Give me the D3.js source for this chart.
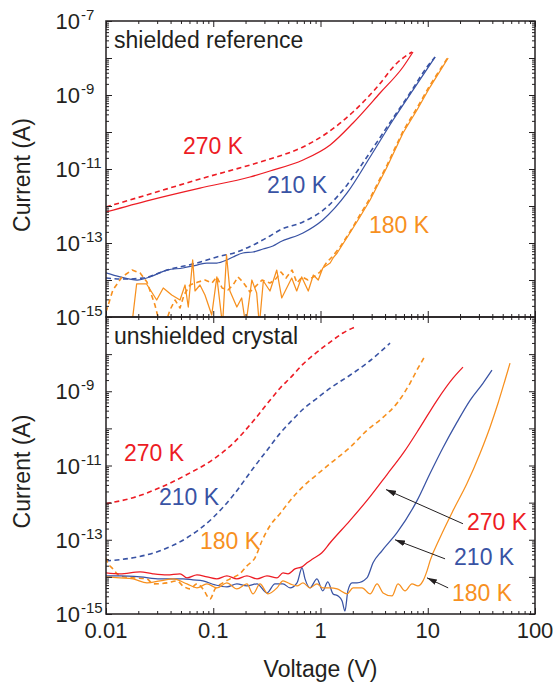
<!DOCTYPE html>
<html>
<head>
<meta charset="utf-8">
<script src="https://cdn.jsdelivr.net/npm/d3@7"></script>
<style>
  body { margin: 0; background: #fff; }
  svg { display: block; font-family: "Liberation Sans", Arial, Helvetica, sans-serif; }
</style>
</head>
<body>
<svg id="chart" width="556" height="684"></svg>
<script>
// axis ticks / labels
const voltageTicks = [0.01, 0.1, 1, 10, 100];
const voltageTickLabels = ["0.01", "0.1", "1", "10", "100"];
const topCurrentExponents = [-7, -9, -11, -13, -15];
const bottomCurrentExponents = [-9, -11, -13, -15];

// shielded reference, [voltage V, current A]
const shieldedRed270Solid = [[0.01,6.9e-13],[0.0257,1.45e-12],[0.0752,3.06e-12],[0.220,6.08e-12],[0.338,8.83e-12],[0.687,1.75e-11],[1.23,4.46e-11],[2.01,1.75e-10],[3.59,1.13e-9],[5.88,5.71e-9],[7.28,1.45e-8]];
const shieldedRed270Dash = [[0.01,9.4e-13],[0.0257,2.11e-12],[0.0752,5.37e-12],[0.220,1.28e-11],[0.338,1.86e-11],[0.687,3.94e-11],[1.15,9.4e-11],[2.01,3.48e-10],[3.37,1.64e-9],[5.17,7.33e-9],[7.13,1.45e-8]];
const shieldedBlue210Solid = [[0.01,1.55e-14],[0.0135,1.21e-14],[0.0195,1.0e-14],[0.0257,1.21e-14],[0.0371,1.86e-14],[0.0522,2.11e-14],[0.0705,2.54e-14],[0.0874,2.88e-14],[0.108,2.88e-14],[0.134,3.48e-14],[0.153,4.19e-14],[0.189,5.37e-14],[0.235,5.71e-14],[0.291,6.89e-14],[0.360,8.3e-14],[0.419,1.06e-13],[0.687,1.86e-13],[1.05,4.19e-13],[1.77,2.25e-12],[2.90,2.11e-11],[4.75,2.11e-10],[7.28,1.36e-9],[11.7,1.06e-8]];
const shieldedBlue210Dash = [[0.01,1.13e-14],[0.0150,1.06e-14],[0.0221,1.13e-14],[0.0371,1.86e-14],[0.0705,2.88e-14],[0.108,4.19e-14],[0.166,5.71e-14],[0.235,8.83e-14],[0.338,1.55e-13],[0.419,2.25e-13],[0.687,3.70e-13],[1.15,9.4e-13],[1.77,3.70e-12],[2.71,2.11e-11],[4.17,1.36e-10],[6.83,1.13e-9],[9.84,5.71e-9],[11.7,1.06e-8]];
const shieldedOrange180Solid = [[0.01,4e-16],[0.0150,5e-16],[0.0174,6e-16],[0.0193,7.8e-15],[0.0239,7.8e-15],[0.0297,2.88e-15],[0.0342,6.08e-15],[0.0410,3.94e-15],[0.0490,2.88e-15],[0.0546,7.33e-15],[0.0585,1.86e-15],[0.0643,3.48e-14],[0.0676,5.05e-15],[0.0752,7.33e-15],[0.0837,3.94e-15],[0.0968,1.13e-15],[0.108,1.21e-14],[0.122,6e-16],[0.133,4.74e-14],[0.143,5.05e-15],[0.166,1.86e-15],[0.184,3.27e-15],[0.201,6e-16],[0.229,1.0e-14],[0.254,4.46e-15],[0.269,6e-16],[0.293,9.4e-15],[0.338,5.05e-15],[0.391,1.86e-14],[0.435,3.27e-15],[0.484,6.08e-15],[0.539,1.13e-14],[0.600,5.05e-15],[0.668,1.21e-14],[0.769,5.05e-15],[0.857,1.36e-14],[0.953,1.0e-14],[1.05,2.11e-14],[1.23,2.88e-14],[1.31,3.94e-14],[1.43,5.37e-14],[1.88,1.86e-13],[2.33,5.05e-13],[2.90,1.45e-12],[4.17,1.13e-11],[5.88,9.4e-11],[7.94,3.94e-10],[10.5,1.64e-9],[15.5,1.0e-8]];
const shieldedOrange180Dash = [[0.01,1.36e-15],[0.0116,5.37e-15],[0.0141,1.21e-14],[0.0175,1.86e-14],[0.0208,1.55e-14],[0.0241,8.83e-15],[0.0286,2.11e-15],[0.0305,1e-15],[0.0355,6.08e-16],[0.0395,1.55e-15],[0.0440,2.88e-15],[0.0490,1.75e-15],[0.0534,3.94e-15],[0.0607,7.33e-15],[0.0721,8.83e-15],[0.0837,1e-14],[0.0973,8.3e-15],[0.108,1.21e-14],[0.121,6.08e-15],[0.137,5.37e-15],[0.153,7.33e-15],[0.170,1.21e-14],[0.189,8.83e-15],[0.220,4.74e-15],[0.256,7.33e-15],[0.285,1e-14],[0.338,8.3e-15],[0.376,1e-14],[0.428,1.64e-14],[0.477,1.13e-14],[0.543,1.86e-14],[0.604,8.3e-15],[0.673,1.21e-14],[0.764,1e-14],[0.889,1.28e-14],[0.989,1.64e-14],[1.15,3.06e-14],[1.28,4.19e-14],[1.52,7.8e-14],[1.88,1.98e-13],[2.33,5.71e-13],[2.90,1.64e-12],[4.17,1.28e-11],[5.88,1.06e-10],[7.94,4.46e-10],[10.5,1.86e-9],[15.5,1.06e-8]];

// unshielded crystal, [voltage V, current A]
const unshieldedRed270Dash = [[0.01,9.4e-13],[0.0179,1.36e-12],[0.0319,2.54e-12],[0.0569,5.71e-12],[0.0995,1.45e-11],[0.153,3.94e-11],[0.235,1.55e-10],[0.338,5.71e-10],[0.419,1.21e-9],[0.520,2.25e-9],[0.687,5.37e-9],[0.927,1.13e-8],[1.23,2.11e-8],[1.62,3.70e-8],[2.10,5.37e-8]];
const unshieldedBlue210Dash = [[0.01,2.70e-14],[0.0179,3.27e-14],[0.0319,5.05e-14],[0.0569,1.13e-13],[0.0995,3.94e-13],[0.153,1.55e-12],[0.235,8.3e-12],[0.338,3.27e-11],[0.419,7.33e-11],[0.520,1.45e-10],[0.687,3.27e-10],[0.927,6.47e-10],[1.23,1.21e-9],[1.88,2.70e-9],[2.71,5.71e-9],[3.59,1.13e-8],[4.45,1.98e-8]];
const unshieldedOrange180Dash = [[0.01,3.27e-14],[0.0102,2.70e-14],[0.0116,1.64e-14],[0.0135,1.06e-14],[0.0179,9.4e-15],[0.0241,8.83e-15],[0.0274,6.47e-15],[0.0371,6.89e-15],[0.0459,7.8e-15],[0.0522,5.71e-15],[0.0607,4.74e-15],[0.0705,6.47e-15],[0.0802,4.74e-15],[0.0933,2.54e-15],[0.104,4.74e-15],[0.123,6.89e-15],[0.150,9.4e-15],[0.177,1.21e-14],[0.206,1.98e-14],[0.245,3.27e-14],[0.285,9.4e-14],[0.338,2.39e-13],[0.419,5.05e-13],[0.520,1.13e-12],[0.687,2.70e-12],[0.927,5.71e-12],[1.23,1.13e-11],[1.88,3.06e-11],[2.71,8.83e-11],[3.83,1.98e-10],[5.17,4.74e-10],[6.83,1.64e-9],[8.11,4.19e-9],[9.42,8.83e-9]];
const unshieldedRed270Solid = [[0.01,1.28e-14],[0.0135,1.21e-14],[0.0208,1.36e-14],[0.0274,1.21e-14],[0.0371,1.13e-14],[0.0490,1.21e-14],[0.0569,9.4e-15],[0.0705,1.13e-14],[0.0874,1.0e-14],[0.108,8.83e-15],[0.134,1.06e-14],[0.166,8.83e-15],[0.206,1.06e-14],[0.256,8.83e-15],[0.317,1.06e-14],[0.393,9.4e-15],[0.447,1.28e-14],[0.498,1.21e-14],[0.578,1.64e-14],[0.673,1.86e-14],[0.749,2.39e-14],[0.851,3.06e-14],[1.03,4.46e-14],[1.23,8.3e-14],[1.88,3.27e-13],[2.90,1.45e-12],[4.17,5.71e-12],[5.88,2.11e-11],[8.47,1.06e-10],[12.2,5.71e-10],[17.2,2.25e-9],[21.3,4.46e-9]];
const unshieldedBlue210Solid = [[0.01,1.06e-14],[0.0135,1.06e-14],[0.0208,1.0e-14],[0.0319,8.83e-15],[0.0422,8.83e-15],[0.0522,8.83e-15],[0.0647,8.3e-15],[0.0802,7.8e-15],[0.104,6.08e-15],[0.134,5.37e-15],[0.166,6.47e-15],[0.206,5.71e-15],[0.256,6.47e-15],[0.317,3.70e-15],[0.376,6.47e-15],[0.447,6.47e-15],[0.520,5.05e-15],[0.604,6.89e-15],[0.673,1.75e-14],[0.717,8.83e-15],[0.798,5.05e-15],[0.927,8.83e-15],[1.05,4.19e-15],[1.17,7.33e-15],[1.31,3.48e-15],[1.46,3.06e-15],[1.59,2.25e-15],[1.69,1.20e-15],[1.80,4.19e-15],[1.97,6.89e-15],[2.19,6.89e-15],[2.71,9.4e-15],[3.09,2.39e-14],[3.74,5.05e-14],[5.17,1.55e-13],[7.94,1.13e-12],[10.5,6.08e-12],[13.9,3.06e-11],[18.7,1.45e-10],[24.8,5.71e-10],[32.7,1.64e-9],[39.7,3.70e-9]];
const unshieldedOrange180Solid = [[0.01,1.0e-14],[0.0135,9.4e-15],[0.0179,8.83e-15],[0.0241,6.89e-15],[0.0319,7.8e-15],[0.0422,8.83e-15],[0.0569,6.47e-15],[0.0705,5.05e-15],[0.0874,6.47e-15],[0.108,5.05e-15],[0.134,6.89e-15],[0.166,4.74e-15],[0.206,6.47e-15],[0.235,3.48e-15],[0.273,6.47e-15],[0.324,3.48e-15],[0.393,5.05e-15],[0.447,7.8e-15],[0.520,6.47e-15],[0.604,5.71e-15],[0.687,6.89e-15],[0.798,5.05e-15],[0.927,6.47e-15],[1.05,5.05e-15],[1.23,5.05e-15],[1.43,4.74e-15],[1.77,3.48e-15],[2.01,5.05e-15],[2.44,5.05e-15],[2.90,3.48e-15],[3.37,6.47e-15],[3.83,3.70e-15],[4.64,3.06e-15],[5.28,6.47e-15],[6.14,4.19e-15],[7.13,6.47e-15],[8.11,5.71e-15],[9.03,7.8e-15],[9.84,1.45e-14],[10.5,2.70e-14],[13.0,1.13e-13],[17.2,6.08e-13],[23.2,3.27e-12],[30.7,2.11e-11],[38.0,1.06e-10],[45.2,4.74e-10],[52.5,1.98e-9],[58.5,5.71e-9]];

// temperature labels, anchored at [V, A] (text start, baseline)
const shieldedLabels = [
    { text: "270 K", temp: 270, at: [0.0522, 2.54e-11] },
    { text: "210 K", temp: 210, at: [0.317, 2.25e-12] },
    { text: "180 K", temp: 180, at: [2.83, 1.86e-13] }
];
const unshieldedLabels = [
    { text: "270 K", temp: 270, at: [0.0147, 1.36e-11] },
    { text: "210 K", temp: 210, at: [0.0312, 8.83e-13] },
    { text: "180 K", temp: 180, at: [0.0752, 5.71e-14] },
    { text: "270 K", temp: 270, at: [23.2, 1.86e-13] },
    { text: "210 K", temp: 210, at: [17.6, 2.11e-14] },
    { text: "180 K", temp: 180, at: [16.8, 2.25e-15] }
];
const unshieldedArrows = [
    { from: [21.3, 2.70e-13], to: [4.08, 2.25e-12] },
    { from: [14.5, 3.06e-14], to: [4.95, 1.0e-13] },
    { from: [15.5, 5.05e-15], to: [9.84, 9.4e-15] }
];

const colors = { 270: "#ed1c24", 210: "#3953a4", 180: "#f7901e" };
const ink = "#231f20";

const svg = d3.select("#chart");
const left = 106, right = 535;
const x = d3.scaleLog().domain([0.01, 100]).range([left, right]);
const yTop = d3.scaleLog().domain([1e-15, 1e-7]).range([317, 21]);
const yBot = d3.scaleLog().domain([1e-15, 1e-7]).range([614, 317]);

const defs = svg.append("defs");
defs.append("marker")
    .attr("id", "arrow")
    .attr("viewBox", "0 0 10 6")
    .attr("refX", 10).attr("refY", 3)
    .attr("markerWidth", 10).attr("markerHeight", 6)
    .attr("markerUnits", "userSpaceOnUse")
    .attr("orient", "auto")
    .append("path").attr("d", "M0,0L10,3L0,6Z").attr("fill", ink);

function drawPanel(id, y, series, labels, title, exps) {
    const [y0, y1] = y.range();
    const g = svg.append("g");

    defs.append("clipPath").attr("id", "clip-" + id)
        .append("rect").attr("x", left).attr("y", y1).attr("width", right - left).attr("height", y0 - y1);

    const lines = g.append("g").attr("clip-path", `url(#clip-${id})`);
    series.forEach(s => {
        const line = d3.line()
            .x(d => x(d[0]))
            .y(d => y(d[1]))
            .curve(s.jagged ? d3.curveLinear : d3.curveMonotoneX);
        lines.append("path")
            .attr("d", line(s.data))
            .attr("fill", "none")
            .attr("stroke", colors[s.temp])
            .attr("stroke-width", s.dashed ? 1.6 : 1.25)
            .attr("stroke-dasharray", s.dashed ? "5,3.5" : null)
            .attr("stroke-linejoin", "round");
    });

    // ticks, all pointing inward
    const majorX = voltageTicks;
    const minorX = d3.range(-2, 2).flatMap(e => d3.range(2, 10).map(m => m * Math.pow(10, e)));
    const majorY = d3.range(-15, -6).map(e => Math.pow(10, e));
    const minorY = d3.range(-15, -7).flatMap(e => d3.range(2, 10).map(m => m * Math.pow(10, e)));

    const axes = g.append("g").attr("color", ink);
    const put = (axis, t) => axes.append("g").attr("transform", t).call(axis)
        .call(a => a.select(".domain").remove())
        .call(a => a.selectAll("line").attr("stroke-width", 1));
    put(d3.axisBottom(x).tickValues(majorX).tickSize(-6).tickFormat(""), `translate(0,${y0})`);
    put(d3.axisBottom(x).tickValues(minorX).tickSize(-3).tickFormat(""), `translate(0,${y0})`);
    put(d3.axisTop(x).tickValues(majorX).tickSize(-6).tickFormat(""), `translate(0,${y1})`);
    put(d3.axisTop(x).tickValues(minorX).tickSize(-3).tickFormat(""), `translate(0,${y1})`);
    put(d3.axisLeft(y).tickValues(majorY).tickSize(-6).tickFormat(""), `translate(${left},0)`);
    put(d3.axisLeft(y).tickValues(minorY).tickSize(-3).tickFormat(""), `translate(${left},0)`);
    put(d3.axisRight(y).tickValues(majorY).tickSize(-6).tickFormat(""), `translate(${right},0)`);
    put(d3.axisRight(y).tickValues(minorY).tickSize(-3).tickFormat(""), `translate(${right},0)`);

    g.append("rect")
        .attr("x", left).attr("y", y1).attr("width", right - left).attr("height", y0 - y1)
        .attr("fill", "none").attr("stroke", ink).attr("stroke-width", 1.5);

    // y tick labels 10^n
    exps.forEach(e => {
        const ty = y(Math.pow(10, e));
        g.append("text").attr("x", 80).attr("y", ty + 8)
            .attr("text-anchor", "end").attr("font-size", 22).attr("fill", ink).text("10");
        g.append("text").attr("x", 81).attr("y", ty - 1)
            .attr("font-size", 15).attr("fill", ink).text("-" + Math.abs(e));
    });

    g.append("text")
        .attr("transform", `translate(30,${(y0 + y1) / 2 + 6}) rotate(-90)`)
        .attr("text-anchor", "middle").attr("font-size", 23).attr("fill", ink)
        .text("Current (A)");

    g.append("text").attr("x", left + 8).attr("y", y1 + 27)
        .attr("font-size", 23).attr("fill", ink).text(title);

    labels.forEach(l => {
        g.append("text")
            .attr("x", x(l.at[0])).attr("y", y(l.at[1]))
            .attr("font-size", 23).attr("fill", colors[l.temp])
            .text(l.text);
    });
    return g;
}

drawPanel("top", yTop, [
    { data: shieldedRed270Dash, temp: 270, dashed: true },
    { data: shieldedRed270Solid, temp: 270 },
    { data: shieldedBlue210Dash, temp: 210, dashed: true },
    { data: shieldedBlue210Solid, temp: 210 },
    { data: shieldedOrange180Dash, temp: 180, dashed: true, jagged: true },
    { data: shieldedOrange180Solid, temp: 180, jagged: true }
], shieldedLabels, "shielded reference", topCurrentExponents);

const bottom = drawPanel("bot", yBot, [
    { data: unshieldedRed270Dash, temp: 270, dashed: true },
    { data: unshieldedBlue210Dash, temp: 210, dashed: true },
    { data: unshieldedOrange180Dash, temp: 180, dashed: true },
    { data: unshieldedRed270Solid, temp: 270 },
    { data: unshieldedBlue210Solid, temp: 210 },
    { data: unshieldedOrange180Solid, temp: 180 }
], unshieldedLabels, "unshielded crystal", bottomCurrentExponents);

unshieldedArrows.forEach(a => {
    bottom.append("line")
        .attr("x1", x(a.from[0])).attr("y1", yBot(a.from[1]))
        .attr("x2", x(a.to[0])).attr("y2", yBot(a.to[1]))
        .attr("stroke", ink).attr("stroke-width", 1)
        .attr("marker-end", "url(#arrow)");
});

// x tick labels and title on the lower panel only
voltageTicks.forEach((v, i) => {
    svg.append("text").attr("x", x(v)).attr("y", 638)
        .attr("text-anchor", "middle").attr("font-size", 22).attr("fill", ink)
        .text(voltageTickLabels[i]);
});
svg.append("text").attr("x", (left + right) / 2).attr("y", 677)
    .attr("text-anchor", "middle").attr("font-size", 23).attr("fill", ink)
    .text("Voltage (V)");
</script>
</body>
</html>
